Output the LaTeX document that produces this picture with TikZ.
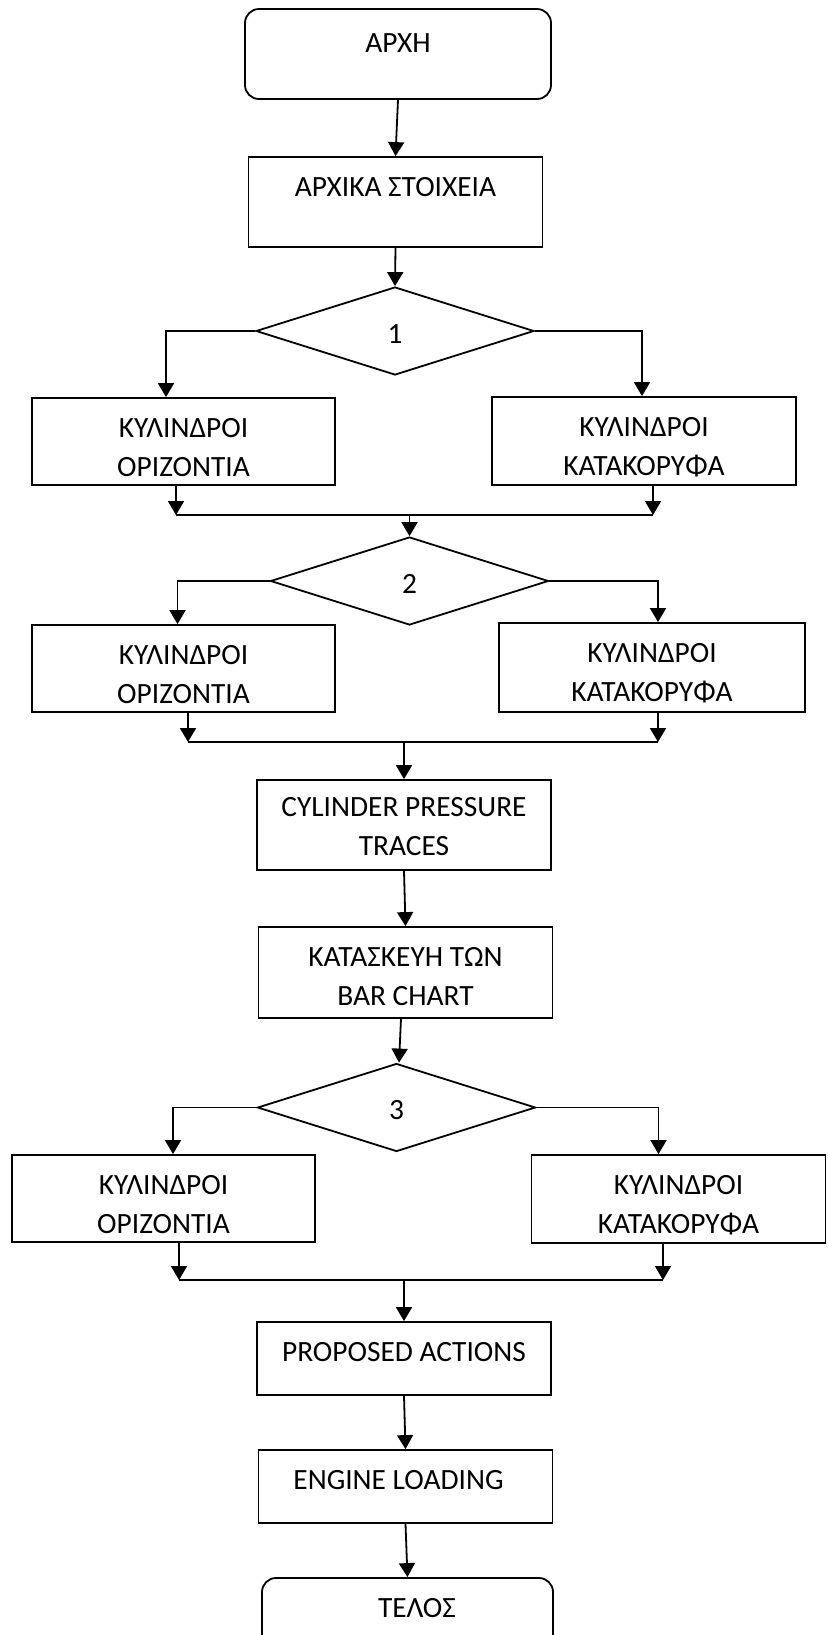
\documentclass[tikz,border=0pt]{standalone}
\usepackage{fontspec}
\setmainfont{Carlito}
\usepackage{tikz}
\usetikzlibrary{shapes.geometric,arrows.meta}

\begin{document}
\begin{tikzpicture}[x=0.5pt,y=-0.5pt,line width=0.9pt,font=\fontsize{14.7pt}{19.5pt}\selectfont,
	box/.style={draw,rectangle,minimum width=147pt,inner xsep=2pt,inner ysep=0pt,align=center,text height=19.5pt,text depth=24.5pt},
	pair/.style={box,text height=39pt,text depth=5pt},
	wide/.style={pair,minimum width=151.5pt},
	short/.style={box,text depth=17pt},
	term/.style={box,rounded corners=7pt},
	test/.style={draw,diamond,inner sep=0pt,minimum width=139pt,minimum height=44pt,text height=21pt,text depth=9pt},
	arr/.style={-{Triangle[length=7pt,width=8pt]}}]
	\useasboundingbox (0,0) rectangle (827,1635);

	\node[term,minimum width=153pt,text height=21.5pt,text depth=23.5pt] (start) at (398,54) {ΑΡΧΗ};
	\node[box,text depth=25.5pt] (init) at (395.5,202) {ΑΡΧΙΚΑ ΣΤΟΙΧΕΙΑ};
	\node[test] (dec1) at (395,331) {1};
	\node[wide,text depth=4.5pt] (hor1) at (183.5,441.5) {ΚΥΛΙΝΔΡΟΙ\\ΟΡΙΖΟΝΤΙΑ};
	\node[wide,minimum width=152pt] (ver1) at (644,441) {ΚΥΛΙΝΔΡΟΙ\\ΚΑΤΑΚΟΡΥΦΑ};
	\node[test] (dec2) at (409.5,581) {2};
	\node[wide,text depth=4.5pt] (hor2) at (183.5,668.5) {ΚΥΛΙΝΔΡΟΙ\\ΟΡΙΖΟΝΤΙΑ};
	\node[wide,minimum width=153pt,text depth=5.5pt] (ver2) at (652,667.5) {ΚΥΛΙΝΔΡΟΙ\\ΚΑΤΑΚΟΡΥΦΑ};
	\node[pair,text height=37.5pt,text depth=7.5pt] (cpt) at (404,825) {CYLINDER PRESSURE\\TRACES};
	\node[pair,text depth=6.5pt] (chart) at (405.5,972.5) {ΚΑΤΑΣΚΕΥΗ ΤΩΝ\\BAR CHART};
	\node[test] (dec3) at (396.5,1107.5) {3};
	\node[wide,text depth=4.5pt] (hor3) at (163.5,1198.5) {ΚΥΛΙΝΔΡΟΙ\\ΟΡΙΖΟΝΤΙΑ};
	\node[pair] (ver3) at (678.5,1199) {ΚΥΛΙΝΔΡΟΙ\\ΚΑΤΑΚΟΡΥΦΑ};
	\node[short] (actions) at (404,1358.5) {PROPOSED ACTIONS};
	\node[short] (loading) at (405.5,1486.5) {ENGINE LOADING\hspace*{7pt}};
	\node[term,minimum width=145.5pt] (finish) at (407.5,1622) {\hspace*{9.5pt}ΤΕΛΟΣ};

	\coordinate (j1l) at (176,515);
	\coordinate (j1r) at (653,515);
	\coordinate (j2l) at (188,742);
	\coordinate (j2r) at (658,742);
	\coordinate (j3l) at (179,1280);
	\coordinate (j3r) at (663,1280);

	\path[arr]
	(start.south) edge (init.north)
	(init.south) edge (dec1.north)
	(cpt.south) edge (chart.north)
	([xshift=-2.25pt]chart.south) edge ([xshift=1.25pt]dec3.north)
	(actions.south) edge (loading.north)
	(loading.south) edge (finish.north);

	\draw[arr] (dec1.west) -| ([xshift=-8.75pt]hor1.north);
	\draw[arr] (dec1.east) -| ([xshift=-1pt]ver1.north);
	\draw[arr] (dec2.west) -| ([xshift=-3pt]hor2.north);
	\draw[arr] (dec2.east) -| ([xshift=3pt]ver2.north);
	\draw[arr] (dec3.west) -| ([xshift=4.75pt]hor3.north);
	\draw[arr] (dec3.east) -| ([xshift=-10pt]ver3.north);

	\draw (j1l) -- (j1r);
	\draw (j2l) -- (j2r);
	\draw (j3l) -- (j3r);
	\path[arr]
	(hor1.south -| j1l) edge (j1l)
	(ver1.south -| j1r) edge (j1r)
	(j1l -| dec2.north) edge (dec2.north)
	(hor2.south -| j2l) edge (j2l)
	(ver2.south -| j2r) edge (j2r)
	(j2l -| cpt.north) edge (cpt.north)
	(hor3.south -| j3l) edge (j3l)
	(ver3.south -| j3r) edge (j3r)
	(j3l -| actions.north) edge (actions.north);
\end{tikzpicture}
\end{document}
